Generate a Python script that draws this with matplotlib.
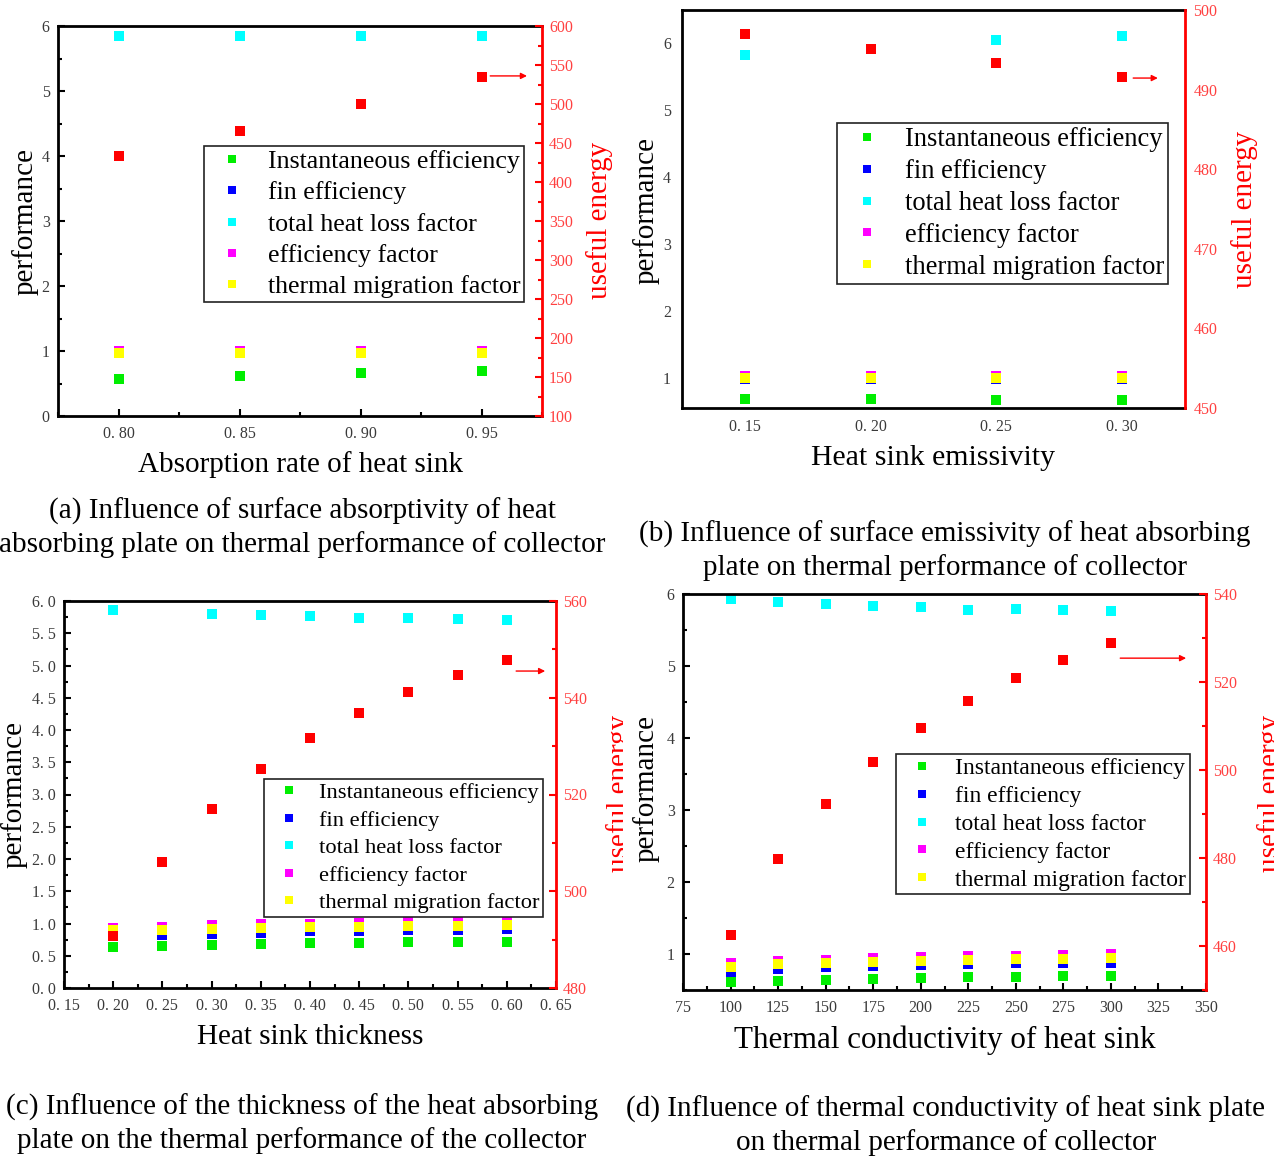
import numpy as np
import matplotlib
matplotlib.use('Agg')
import matplotlib.pyplot as plt
from matplotlib.ticker import MultipleLocator
from matplotlib.transforms import Bbox, TransformedBbox

plt.rcParams['font.family'] = ['Liberation Serif', 'DejaVu Serif']

# ---------------- data ----------------
SERIES = ['Instantaneous efficiency', 'fin efficiency', 'total heat loss factor',
          'efficiency factor', 'thermal migration factor']
COLORS = ['#00ee00', '#0000ff', '#00ffff', '#ff00ff', '#ffff00']
ENERGY_COLOR = '#ff0000'

# (a) absorption rate
a_x = [0.80, 0.85, 0.90, 0.95]
a_inst = [0.565, 0.611, 0.657, 0.70]
a_fin = [0.965, 0.965, 0.965, 0.965]
a_loss = [5.85, 5.85, 5.85, 5.85]
a_eff = [1.0, 1.0, 1.0, 1.0]
a_tmf = [0.976, 0.976, 0.976, 0.976]
a_energy = [433, 466, 500, 534]

# (b) emissivity
b_x = [0.15, 0.20, 0.25, 0.30]
b_inst = [0.676, 0.676, 0.67, 0.665]
b_fin = [0.98, 0.98, 0.98, 0.98]
b_loss = [5.83, 5.91, 6.05, 6.11]
b_eff = [1.02, 1.02, 1.02, 1.02]
b_tmf = [0.995, 0.995, 0.995, 0.995]
b_energy = [497.0, 495.1, 493.3, 491.6]

# (c) thickness
c_x = [0.20, 0.25, 0.30, 0.35, 0.40, 0.45, 0.50, 0.55, 0.60]
c_inst = [0.636, 0.657, 0.672, 0.688, 0.693, 0.698, 0.709, 0.709, 0.714]
c_fin = [0.86, 0.82, 0.84, 0.86, 0.88, 0.89, 0.895, 0.90, 0.91]
c_loss = [5.865, np.nan, 5.80, 5.78, 5.76, 5.74, 5.73, 5.72, 5.71]
c_eff = [0.93, 0.947, 0.97, 0.988, 1.0, 1.01, 1.02, 1.03, 1.04]
c_tmf = [0.905, 0.895, 0.92, 0.93, 0.94, 0.95, 0.957, 0.962, 0.97]
c_energy = [490.8, 506.0, 516.9, 525.2, 531.7, 536.9, 541.2, 544.8, 547.9]

# (d) thermal conductivity
d_x = [100, 125, 150, 175, 200, 225, 250, 275, 300]
d_inst = [0.605, 0.63, 0.643, 0.657, 0.667, 0.675, 0.68, 0.69, 0.694]
d_fin = [0.754, 0.79, 0.814, 0.837, 0.85, 0.865, 0.87, 0.88, 0.88]
d_loss = [5.93, 5.89, 5.865, 5.84, 5.82, 5.78, 5.79, 5.78, 5.77]
d_eff = [0.87, 0.90, 0.92, 0.944, 0.958, 0.972, 0.977, 0.986, 0.995]
d_tmf = [0.824, 0.856, 0.875, 0.889, 0.907, 0.916, 0.926, 0.93, 0.94]
d_energy = [462.4, 479.7, 492.3, 501.9, 509.6, 515.7, 520.8, 525.0, 528.8]

# tick labels
a_xticks = [0.80, 0.85, 0.90, 0.95]
a_xticklabels = ['0. 80', '0. 85', '0. 90', '0. 95']
a_yticks = [0, 1, 2, 3, 4, 5, 6]
a_yticklabels = ['0', '1', '2', '3', '4', '5', '6']
a_y2ticks = [100, 150, 200, 250, 300, 350, 400, 450, 500, 550, 600]
a_y2ticklabels = [str(v) for v in a_y2ticks]

b_xticks = [0.15, 0.20, 0.25, 0.30]
b_xticklabels = ['0. 15', '0. 20', '0. 25', '0. 30']
b_yticks = [1, 2, 3, 4, 5, 6]
b_yticklabels = ['1', '2', '3', '4', '5', '6']
b_y2ticks = [450, 460, 470, 480, 490, 500]
b_y2ticklabels = [str(v) for v in b_y2ticks]

c_xticks = [0.15, 0.20, 0.25, 0.30, 0.35, 0.40, 0.45, 0.50, 0.55, 0.60, 0.65]
c_xticklabels = ['0. 15', '0. 20', '0. 25', '0. 30', '0. 35', '0. 40', '0. 45',
                 '0. 50', '0. 55', '0. 60', '0. 65']
c_yticks = [0.0, 0.5, 1.0, 1.5, 2.0, 2.5, 3.0, 3.5, 4.0, 4.5, 5.0, 5.5, 6.0]
c_yticklabels = ['0. 0', '0. 5', '1. 0', '1. 5', '2. 0', '2. 5', '3. 0', '3. 5',
                 '4. 0', '4. 5', '5. 0', '5. 5', '6. 0']
c_y2ticks = [480, 500, 520, 540, 560]
c_y2ticklabels = [str(v) for v in c_y2ticks]

d_xticks = [75, 100, 125, 150, 175, 200, 225, 250, 275, 300, 325, 350]
d_xticklabels = [str(v) for v in d_xticks]
d_yticks = [1, 2, 3, 4, 5, 6]
d_yticklabels = ['1', '2', '3', '4', '5', '6']
d_y2ticks = [460, 480, 500, 520, 540]
d_y2ticklabels = [str(v) for v in d_y2ticks]

# ---------------- figure ----------------
W, H = 1286, 1156
fig = plt.figure(figsize=(W / 100, H / 100), dpi=100)


def rect(l, t, r, b):
    return [l / W, 1 - b / H, (r - l) / W, (b - t) / H]


def fx(px):
    return px / W


def fy(py):
    return 1 - py / H


TICK_COLOR = '#3a3a3a'
RTICK_COLOR = '#ff4040'


def panel(box, x, series, energy, xlim, ylim, y2lim,
          xt, xtl, yt, ytl, y2t, y2tl, xminor, yminor, y2minor,
          leg_anchor, leg_fs, leg_spacing, leg_geom, arrow, ticks=True, ms=7.0,
          tick_fs=11.5, xpad=7):
    ax = fig.add_axes(rect(*box))
    for vals, c, name in zip(series, COLORS, SERIES):
        ax.plot(x, vals, linestyle='none', marker='s', markersize=ms,
                markeredgewidth=0, color=c, label=name)
    ax.set_xlim(*xlim)
    ax.set_ylim(*ylim)
    ax.set_xticks(xt)
    ax.set_xticklabels(xtl, fontsize=tick_fs, color=TICK_COLOR)
    ax.set_yticks(yt)
    ax.set_yticklabels(ytl, fontsize=tick_fs, color=TICK_COLOR)
    ax2 = ax.twinx()
    ax2.plot(x, energy, linestyle='none', marker='s', markersize=ms,
             markeredgewidth=0, color=ENERGY_COLOR)
    ax2.set_ylim(*y2lim)
    ax2.set_yticks(y2t)
    ax2.set_yticklabels(y2tl, fontsize=tick_fs, color=RTICK_COLOR)
    for s in ['left', 'bottom', 'top']:
        ax.spines[s].set_linewidth(2.0)
        ax.spines[s].set_color('black')
    ax.spines['right'].set_visible(False)
    for s in ['left', 'bottom', 'top']:
        ax2.spines[s].set_visible(False)
    ax2.spines['right'].set_color(ENERGY_COLOR)
    ax2.spines['right'].set_linewidth(2.0)
    if ticks:
        if xminor:
            ax.xaxis.set_minor_locator(MultipleLocator(xminor))
        if yminor:
            ax.yaxis.set_minor_locator(MultipleLocator(yminor))
        if y2minor:
            ax2.yaxis.set_minor_locator(MultipleLocator(y2minor))
        ax.tick_params(which='both', direction='in', width=1.5, color='black', pad=6)
        ax.tick_params(axis='x', which='both', pad=xpad)
        ax.tick_params(which='major', length=5)
        ax.tick_params(which='minor', length=3)
        ax2.tick_params(which='both', direction='in', width=1.5, color=ENERGY_COLOR, pad=5)
        ax2.tick_params(which='major', length=5)
        ax2.tick_params(which='minor', length=3)
    else:
        ax.tick_params(which='both', length=0, pad=8)
        ax2.tick_params(which='both', length=0, pad=6)
    bpad, hlen, htp = leg_geom
    leg = ax2.legend(*ax.get_legend_handles_labels(), loc='upper right',
                     bbox_to_anchor=leg_anchor, borderaxespad=0, fontsize=leg_fs,
                     fancybox=False, framealpha=1, edgecolor='#222222',
                     handlelength=hlen, handletextpad=htp, borderpad=bpad,
                     labelspacing=leg_spacing, markerscale=0.85)
    leg.get_frame().set_linewidth(1.2)
    ax2.annotate('', xy=(arrow[1], arrow[2]), xytext=(arrow[0], arrow[2]),
                 xycoords='axes fraction', textcoords='axes fraction',
                 arrowprops=dict(arrowstyle='-|>', color=ENERGY_COLOR, lw=1.0,
                                 mutation_scale=9, shrinkA=0, shrinkB=0))
    return ax, ax2


# (a)
panel((58, 26, 542, 416), a_x, [a_inst, a_fin, a_loss, a_eff, a_tmf], a_energy,
      (0.775, 0.975), (0, 6), (100, 600),
      a_xticks, a_xticklabels, a_yticks, a_yticklabels, a_y2ticks, a_y2ticklabels,
      0.025, 0.5, 25, (0.963, 0.692), 18.6, 0.32, (0.15, 1.94, 0.39),
      (0.893, 0.969, 0.872))
# (b)
panel((682, 10, 1185, 408), b_x, [b_inst, b_fin, b_loss, b_eff, b_tmf], b_energy,
      (0.125, 0.325), (0.545, 6.5), (450, 500),
      b_xticks, b_xticklabels, b_yticks, b_yticklabels, b_y2ticks, b_y2ticklabels,
      None, None, None, (0.966, 0.716), 19.1, 0.26, (0.15, 1.95, 0.46),
      (0.897, 0.946, 0.829), ticks=False)
# (c)
panel((64, 601, 556, 988), c_x, [c_inst, c_fin, c_loss, c_eff, c_tmf], c_energy,
      (0.15, 0.65), (0, 6), (480, 560),
      c_xticks, c_xticklabels, c_yticks, c_yticklabels, c_y2ticks, c_y2ticklabels,
      0.025, 0.25, 10, (0.974, 0.540), 16.2, 0.30, (0.15, 1.96, 0.36),
      (0.919, 0.978, 0.819))
# (d)
panel((683, 594, 1206, 990), d_x, [d_inst, d_fin, d_loss, d_eff, d_tmf], d_energy,
      (75, 350), (0.5, 6), (450, 540),
      d_xticks, d_xticklabels, d_yticks, d_yticklabels, d_y2ticks, d_y2ticklabels,
      12.5, 0.5, 10, (0.969, 0.596), 17, 0.27, (0.15, 1.95, 0.42),
      (0.836, 0.962, 0.838))

# axis titles
fig.text(fx(300), fy(465), 'Absorption rate of heat sink', fontsize=21, ha='center', va='center')
fig.text(fx(933), fy(458), 'Heat sink emissivity', fontsize=21.5, ha='center', va='center')
fig.text(fx(310), fy(1037), 'Heat sink thickness', fontsize=21, ha='center', va='center')
fig.text(fx(945), fy(1040), 'Thermal conductivity of heat sink', fontsize=22.4, ha='center', va='center')

for (px, py) in [(25, 222), (646, 210), (14, 794), (646, 788)]:
    fig.text(fx(px), fy(py), 'performance', fontsize=21, rotation=90, ha='center', va='center')

fig.text(fx(600), fy(220), 'useful energy', fontsize=21, rotation=90,
         ha='center', va='center', color=ENERGY_COLOR)
fig.text(fx(1245), fy(209), 'useful energy', fontsize=21, rotation=90,
         ha='center', va='center', color=ENERGY_COLOR)
for (px, py, clipx) in [(606, 793, 623), (1257, 793, 1274)]:
    t = fig.text(fx(px), fy(py), 'useful energy', fontsize=21, rotation=90,
                 ha='left', va='center', color=ENERGY_COLOR)
    t.set_clip_box(TransformedBbox(Bbox([[0, 0], [clipx / W, 1]]), fig.transFigure))
    t.set_clip_on(True)

# captions
caps = [
    (302, 527.5, '(a) Influence of surface absorptivity of heat\nabsorbing plate on thermal performance of collector'),
    (945, 551, '(b) Influence of surface emissivity of heat absorbing\nplate on thermal performance of collector'),
    (302, 1123.5, '(c) Influence of the thickness of the heat absorbing\nplate on the thermal performance of the collector'),
    (946, 1126, '(d) Influence of thermal conductivity of heat sink plate\non thermal performance of collector'),
]
for px, py, s in caps:
    fig.text(fx(px), fy(py), s, fontsize=21, ha='center', va='center',
             multialignment='center', linespacing=1.3)

fig.savefig('out.png', dpi=100)
